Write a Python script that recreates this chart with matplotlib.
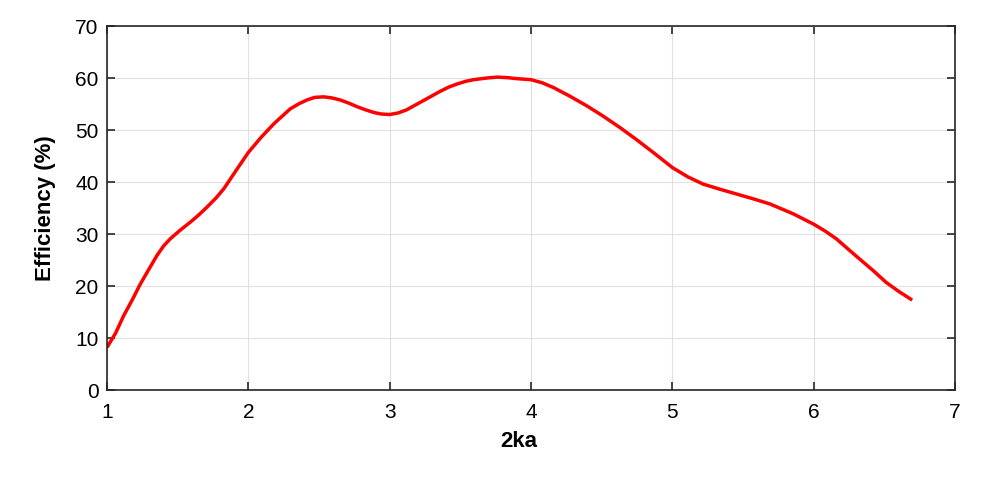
import numpy as np
import matplotlib.pyplot as plt

plt.rcParams['font.family'] = ['Liberation Sans', 'DejaVu Sans']

# values
ka2 = [1.0, 1.06, 1.118, 1.18, 1.236, 1.3, 1.354, 1.4, 1.448, 1.52, 1.59, 1.65, 1.708,
       1.77, 1.826, 1.91, 2.0, 2.09, 2.18, 2.24, 2.297, 2.36, 2.415, 2.47, 2.533, 2.59,
       2.65, 2.71, 2.77, 2.83, 2.887, 2.94, 3.0, 3.06, 3.12, 3.18, 3.24, 3.3, 3.36,
       3.42, 3.48, 3.54, 3.594, 3.68, 3.76, 3.83, 3.9, 4.0, 4.08, 4.158, 4.27, 4.393,
       4.51, 4.629, 4.75, 4.865, 5.0, 5.11, 5.219, 5.34, 5.455, 5.57, 5.69, 5.855,
       6.0, 6.08, 6.16, 6.24, 6.325, 6.42, 6.513, 6.6, 6.697]
eff = [8.2, 10.9, 14.3, 17.4, 20.4, 23.4, 25.9, 27.7, 29.1, 30.8, 32.3, 33.7, 35.2,
       36.9, 38.7, 42.1, 45.7, 48.6, 51.2, 52.7, 54.1, 55.1, 55.8, 56.3, 56.4, 56.2,
       55.8, 55.2, 54.5, 53.9, 53.4, 53.1, 53.0, 53.3, 53.9, 54.8, 55.7, 56.6, 57.5,
       58.3, 58.9, 59.4, 59.7, 60.0, 60.2, 60.1, 59.9, 59.7, 59.1, 58.2, 56.6, 54.7,
       52.7, 50.5, 48.1, 45.7, 42.8, 41.0, 39.6, 38.6, 37.7, 36.8, 35.8, 33.9,
       31.9, 30.6, 29.1, 27.2, 25.2, 23.0, 20.7, 19.0, 17.3]

fig = plt.figure(figsize=(10, 4.8), dpi=100)
ax = fig.add_axes([0.107, 0.1875, 0.848, 0.758])

ax.plot(ka2, eff, color='#ff0000', linewidth=2.5, solid_capstyle='butt')

ax.set_xlim(1, 7)
ax.set_ylim(0, 70)
ax.set_xticks(np.arange(1, 8, 1))
ax.set_yticks(np.arange(0, 71, 10))
ax.grid(True, color='#e0e0e0', linewidth=0.8)
ax.tick_params(direction='in', top=True, right=True, labelsize=15, length=6, width=1.2,
               colors='#262626', labelcolor='black')
ax.tick_params(axis='x', pad=9)
ax.tick_params(axis='y', pad=6)
for s in ax.spines.values():
    s.set_linewidth(1.2)
    s.set_color('#262626')

ax.set_xlabel('2ka', fontsize=16, fontweight='bold')
ax.xaxis.set_label_coords(0.485, -0.112)
ax.set_ylabel('Efficiency (%)', fontsize=16, fontweight='bold')
ax.yaxis.set_label_coords(-0.060, 0.5)

fig.savefig('out.png', dpi=100)
